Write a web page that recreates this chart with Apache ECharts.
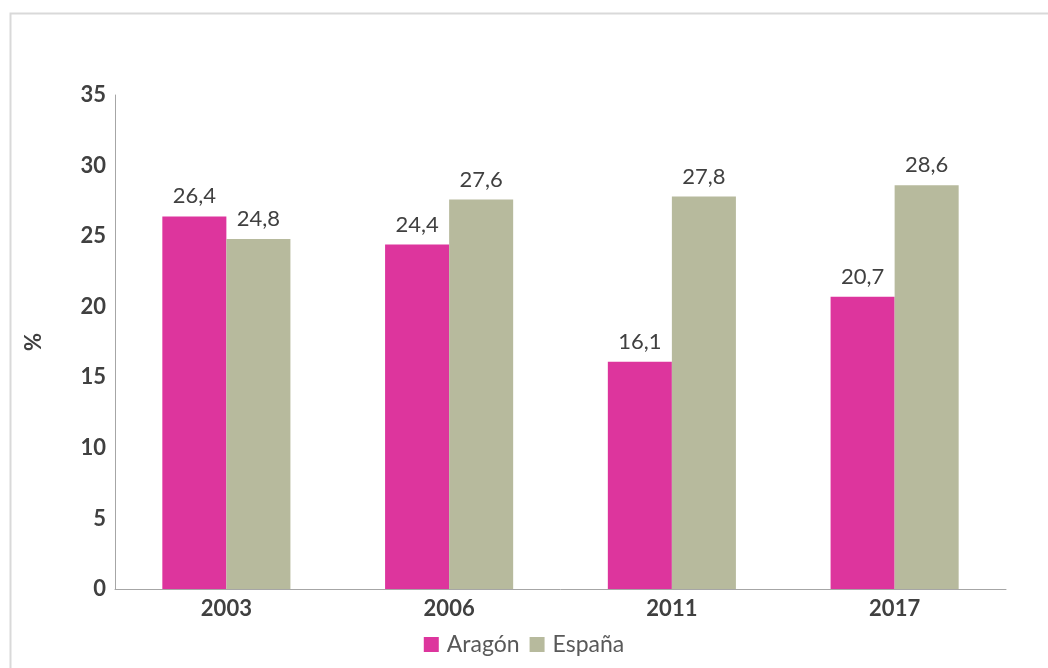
<!DOCTYPE html>
<html><head><meta charset="utf-8">
<script src="https://cdn.jsdelivr.net/npm/echarts@6/dist/echarts.min.js"></script>
<style>html,body{margin:0;padding:0;background:#fff}#c{width:1048px;height:668px}</style>
</head><body><div id="c"></div>
<script>
const categories = ['2003', '2006', '2011', '2017'];
const aragon = [26.4, 24.4, 16.1, 20.7];
const espana = [24.8, 27.6, 27.8, 28.6];
const yTicks = [0, 5, 10, 15, 20, 25, 30, 35];

const chart = echarts.init(document.getElementById('c'), null, {renderer: 'canvas'});
const fmt = p => String(p.value).replace('.', ',');
const lbl = {show: true, position: 'top', distance: 9, formatter: fmt, color: '#404040', fontFamily: 'Lato', fontSize: 22};
chart.setOption({
  animation: false,
  textStyle: {fontFamily: 'Lato'},
  graphic: [{type: 'rect', shape: {x: 10.5, y: 13.5, width: 1100, height: 700}, style: {fill: 'none', stroke: '#d9d9d9', lineWidth: 2}, silent: true}],
  grid: {left: 115, right: 42, top: 95, bottom: 79},
  legend: {bottom: 7, left: 'center', itemWidth: 15, itemHeight: 15, itemGap: 10, icon: 'rect',
    textStyle: {color: '#595959', fontSize: 23, fontFamily: 'Lato', padding: [0, 0, 0, 3]}, data: ['Aragón', 'España']},
  xAxis: {type: 'category', data: categories,
    axisLine: {lineStyle: {color: '#a6a6a6', width: 1}}, axisTick: {show: false},
    axisLabel: {color: '#404040', fontWeight: 'bold', fontSize: 22, margin: 9}},
  yAxis: {type: 'value', min: yTicks[0], max: yTicks[yTicks.length - 1], interval: 5,
    name: '%', nameLocation: 'middle', nameGap: 70, nameRotate: 90,
    nameTextStyle: {color: '#404040', fontWeight: 'bold', fontSize: 22},
    axisLine: {show: true, lineStyle: {color: '#a6a6a6', width: 1}}, axisTick: {show: false},
    splitLine: {show: false},
    axisLabel: {color: '#404040', fontWeight: 'bold', fontSize: 22, margin: 9}},
  series: [
    {name: 'Aragón', type: 'bar', data: aragon, barGap: '0%', barCategoryGap: '42.5%', itemStyle: {color: '#DD359D'}, label: lbl},
    {name: 'España', type: 'bar', data: espana, itemStyle: {color: '#B7BA9D'}, label: lbl}
  ]
});
</script></body></html>
